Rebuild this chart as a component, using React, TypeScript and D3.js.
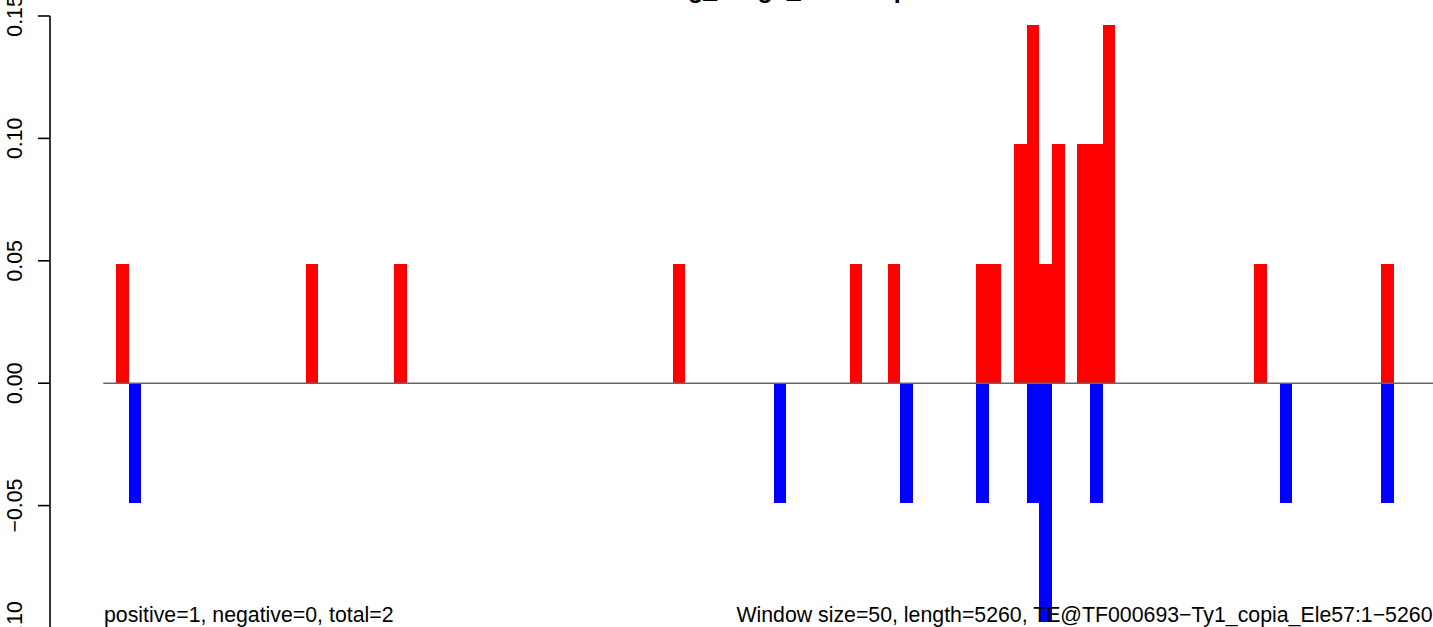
import React from "react";
import * as d3 from "d3";

const TITLE = "Seedling_Ring5_StemRep1";
const LEFT_NOTE = "positive=1, negative=0, total=2";
const RIGHT_NOTE = "Window size=50, length=5260, TE@TF000693\u2212Ty1_copia_Ele57:1\u22125260";

const WINDOW = 50;
const LENGTH = 5260;

const posStarts = [50, 800, 1150, 2250, 2950, 3100, 3450, 3500, 3600, 3650, 3700, 3750, 3850, 3900, 3950, 4550, 5050];
const posValues = [0.0488, 0.0488, 0.0488, 0.0488, 0.0488, 0.0488, 0.0488, 0.0488, 0.0976, 0.1463, 0.0488, 0.0976, 0.0976, 0.0976, 0.1463, 0.0488, 0.0488];

const negStarts = [100, 2650, 3150, 3450, 3650, 3700, 3900, 4650, 5050];
const negValues = [-0.0488, -0.0488, -0.0488, -0.0488, -0.0488, -0.0976, -0.0488, -0.0488, -0.0488];

const yTicks = [-0.1, -0.05, 0, 0.05, 0.1, 0.15];
const yTickLabels = ["\u22120.10", "\u22120.05", "0.00", "0.05", "0.10", "0.15"];

const W = 1433;
const H = 627;
const FONT = "'Liberation Sans', Arial, Helvetica, sans-serif";

export default function App() {
  const x = d3.scaleLinear().domain([0, LENGTH]).range([103.3, 1434]);
  const y = d3.scaleLinear().domain([-0.1, 0.15]).range([628, 16]);
  const axisX = 50;

  return (
    <svg
      width={W}
      height={H}
      style={{ position: "absolute", left: 0, top: 0, display: "block", background: "#fff" }}
      fontFamily={FONT}
    >
      <rect x={0} y={0} width={W} height={H} fill="#fff" />
      {/* title (mostly cut off at top) */}
      <text x={761} y={-2.5} textAnchor="middle" fontWeight="bold" fontSize={25}>
        {TITLE}
      </text>

      {/* positive bars */}
      {posStarts.map((s, i) => (
        <rect
          key={"p" + i}
          x={x(s)}
          width={x(s + WINDOW) - x(s)}
          y={y(posValues[i])}
          height={y(0) - y(posValues[i])}
          fill="#FF0000"
          shapeRendering="crispEdges"
        />
      ))}
      {/* negative bars */}
      {negStarts.map((s, i) => (
        <rect
          key={"n" + i}
          x={x(s)}
          width={x(s + WINDOW) - x(s)}
          y={y(0)}
          height={y(negValues[i]) - y(0)}
          fill="#0000FF"
          shapeRendering="crispEdges"
        />
      ))}

      {/* zero line */}
      <line x1={x(0)} x2={x(LENGTH)} y1={y(0)} y2={y(0)} stroke="#666" strokeWidth={1.5} />

      {/* y axis */}
      <line x1={axisX} x2={axisX} y1={y(0.15)} y2={y(-0.1)} stroke="#000" strokeWidth={1.6} />
      {yTicks.map((t, i) => (
        <g key={"t" + i}>
          <line x1={axisX - 12} x2={axisX} y1={y(t)} y2={y(t)} stroke="#000" strokeWidth={1.6} />
          <text
            transform={`translate(21.5, ${y(t)}) rotate(-90)`}
            textAnchor="middle"
            fontSize={21.3}
          >
            {yTickLabels[i]}
          </text>
        </g>
      ))}

      {/* notes */}
      <text x={104} y={622} fontSize={21.3}>
        {LEFT_NOTE}
      </text>
      <text x={1432.5} y={622} fontSize={21.3} textAnchor="end">
        {RIGHT_NOTE}
      </text>
    </svg>
  );
}
